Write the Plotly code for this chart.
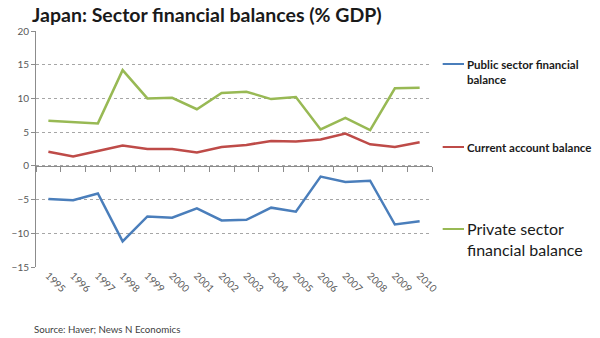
import plotly.graph_objects as go

# Japan sector financial balances, % of GDP
years = [str(y) for y in range(1995, 2011)]
public_sector = [-4.9, -5.1, -4.1, -11.2, -7.5, -7.7, -6.3, -8.1, -8.0, -6.2, -6.8, -1.6, -2.4, -2.2, -8.7, -8.2]
current_account = [2.1, 1.4, 2.2, 3.0, 2.5, 2.5, 2.0, 2.8, 3.1, 3.7, 3.6, 3.9, 4.8, 3.2, 2.8, 3.5]
private_sector = [6.7, 6.5, 6.3, 14.2, 10.0, 10.1, 8.4, 10.8, 11.0, 9.9, 10.2, 5.4, 7.1, 5.3, 11.5, 11.6]

series_names = ["Public sector financial<br>balance", "Current account balance",
                "Private sector<br>financial balance"]
colors = ["#4A7EBB", "#BE4B48", "#98B954"]
y_ticks = [-15, -10, -5, 0, 5, 10, 15, 20]

FONT = "Lato, 'Open Sans', sans-serif"

fig = go.Figure()
for vals, name, col in zip([public_sector, current_account, private_sector], series_names, colors):
    fig.add_trace(go.Scatter(x=years, y=vals, mode="lines", name=name,
                             line=dict(color=col, width=2.5), showlegend=False))

# invisible trace that carries the tick marks on the zero line
fig.add_trace(go.Scatter(x=years, y=[None] * len(years), xaxis="x2", showlegend=False,
                         hoverinfo="skip"))

fig.update_layout(
    width=600, height=338,
    margin=dict(l=24, r=168, t=31, b=71),
    paper_bgcolor="white", plot_bgcolor="white",
    font=dict(family=FONT, color="#595959"),
    title=dict(text="<b>Japan: Sector financial balances (% GDP)</b>",
               x=32 / 600, xanchor="left", y=1 - 15 / 338, yanchor="middle",
               font=dict(size=19.5, color="#1a1a1a", family=FONT)),
    xaxis=dict(type="category", showgrid=False, showline=False, zeroline=False,
               ticks="", tickangle=45, tickfont=dict(size=10, color="#595959"),
               range=[-0.5, len(years) - 0.5]),
    xaxis2=dict(type="category", overlaying="x", anchor="free",
                position=(0 - y_ticks[0]) / (y_ticks[-1] - y_ticks[0]),
                matches="x", showticklabels=False, showgrid=False, zeroline=False,
                showline=True, linecolor="#8c8c8c", linewidth=1,
                ticks="outside", ticklen=5, tickcolor="#8c8c8c", tickson="boundaries"),
    yaxis=dict(range=[y_ticks[0], y_ticks[-1]], tickvals=y_ticks, showline=True,
               linecolor="#8c8c8c", linewidth=1, ticks="outside", ticklen=4,
               tickcolor="#8c8c8c", showgrid=True, gridcolor="#a6a6a6",
               griddash="dot", gridwidth=1, zeroline=False,
               tickfont=dict(size=10, color="#595959")),
)

# legend keys and labels on the right
legend_rows = [
    (series_names[0], colors[0], 64, 11.5, True),
    (series_names[1], colors[1], 147, 11.5, True),
    (series_names[2], colors[2], 229, 16, False),
]
for text, col, ypix, size, bold in legend_rows:
    yp = 1 - (ypix - 31) / (338 - 31 - 71)
    fig.add_shape(type="line", xref="paper", yref="paper",
                  x0=(443 - 24) / 408, x1=(465 - 24) / 408, y0=yp, y1=yp,
                  line=dict(color=col, width=2))
    fig.add_annotation(text=f"<b>{text}</b>" if bold else text,
                       xref="paper", yref="paper",
                       x=(466 - 24) / 408, y=yp, xanchor="left", yanchor="top",
                       yshift=size * 0.72, align="left", showarrow=False,
                       font=dict(size=size, color="#1a1a1a", family=FONT))

fig.add_annotation(text="Source: Haver; News N Economics", xref="paper", yref="paper",
                   x=(20 - 24) / 408, y=1 - (329 - 31) / 236, xanchor="left", yanchor="middle",
                   showarrow=False, font=dict(size=9.7, color="#404040", family=FONT))

fig.write_html("out.html")
